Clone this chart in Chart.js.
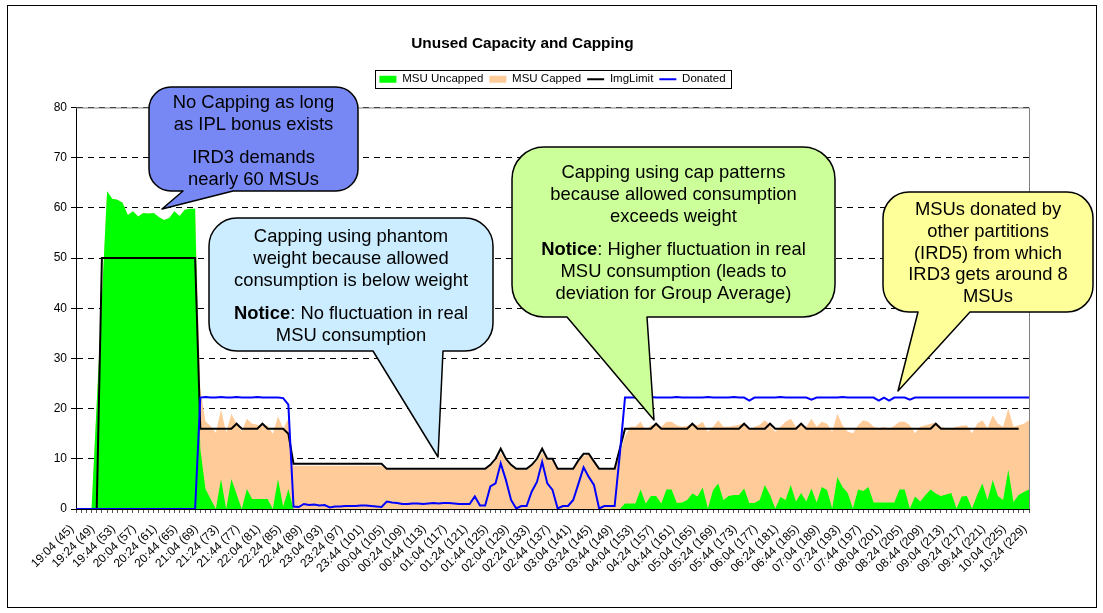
<!DOCTYPE html>
<html>
<head>
<meta charset="utf-8">
<title>Unused Capacity and Capping</title>
<script src="https://cdn.jsdelivr.net/npm/chart.js@4.4.1/dist/chart.umd.min.js"></script>
<style>
  html, body { margin: 0; padding: 0; background: #fff; }
  #wrap { position: relative; width: 1103px; height: 613px; }
</style>
</head>
<body>
<div id="wrap"><canvas id="myChart" width="1103" height="613"></canvas></div>
<script>
// 5 minute intervals, first one is 19:04 (interval 45)
const firstMinute = 19 * 60 + 4
const stepMinutes = 5
const firstInterval = 45

const msuUncapped = [
  0, 0, 0, 0, 21, 42, 63.3, 61.8, 61.6, 61.0,
  58.6, 59.3, 58.3, 59.0, 58.9, 59.0, 58.2, 57.6, 58.0, 59.3,
  58.4, 59.6, 59.8, 59.8, 12, 4, 2, 0, 6, 0,
  6, 3, 0, 4, 2, 2, 2, 2, 0, 6,
  0.5, 4, 0, 0, 0, 0, 0, 0, 0, 0,
  0, 0, 0, 0, 0, 0, 0, 0, 0, 0,
  0, 0, 0, 0, 0, 0, 0, 0, 0, 0,
  0, 0, 0, 0, 0, 0, 0, 0, 0, 0,
  0, 0, 0, 0, 0, 0, 0, 0, 0, 0,
  0, 0, 0, 0, 0, 0, 0, 0, 0, 0,
  0, 0, 0, 0, 0, 0, 1.1, 1.1, 1.1, 3.9,
  1.1, 2.6, 2.6, 1.1, 3.9, 3.9, 1.2, 1.3, 1.8, 3.1,
  2.5, 4.3, 0.1, 3.8, 5.1, 1.8, 2.6, 2.8, 2.8, 4.1,
  1.2, 1.2, 1.8, 4.8, 2.8, 0.1, 2.4, 1.8, 4.8, 1.5,
  3.2, 1.5, 4.1, 1.3, 4.4, 3.8, 0.1, 6.4, 4.4, 3.2,
  0.1, 3.9, 3.6, 4.4, 1.3, 1.3, 1.3, 1.3, 1.3, 3.9,
  3.9, 0.1, 2.5, 1.5, 2.8, 3.9, 3.1, 2.6, 2.9, 3.2,
  0.1, 2.5, 2.6, 0.1, 2.8, 5.1, 1.8, 5.8, 2.6, 1.8,
  7.8, 1.4, 2.8, 3.4, 3.9
]

const msuCapped = [
  0, 0, 0, 0, 0, 0, 0, 0, 0, 0,
  0, 0, 0, 0, 0, 0, 0, 0, 0, 0,
  0, 0, 0, 0, 12, 13.5, 14.5, 15.2, 13.8, 15.2,
  13, 14, 15.5, 14, 15, 14.8, 14.5, 14.7, 15, 12.5,
  15.5, 14, 8.6, 8.6, 8.6, 8.6, 8.6, 8.6, 8.6, 8.6,
  8.6, 8.6, 8.6, 8.6, 8.6, 8.6, 8.6, 8.6, 8.6, 8.6,
  7.8, 7.8, 7.8, 7.8, 7.8, 7.8, 7.8, 7.8, 7.8, 7.8,
  7.8, 7.8, 7.8, 7.8, 7.8, 7.8, 7.8, 7.8, 7.8, 7.8,
  8.5, 9.6, 11.2, 9.6, 8.5, 7.8, 7.8, 7.8, 8.5, 9.6,
  11.2, 9.8, 9.6, 7.8, 7.8, 7.8, 7.8, 9.4, 10.6, 10.8,
  9.2, 7.8, 7.8, 7.8, 7.8, 11, 13.4, 15.3, 15.3, 13.5,
  14.6, 14.1, 14.2, 15.3, 13.5, 13.5, 15.5, 15.1, 14.8, 13.9,
  14.2, 13.1, 15.3, 12.6, 12.6, 14.6, 13.8, 13.8, 14.0, 13.1,
  14.5, 15.2, 15.0, 12.9, 13.9, 15.3, 14.0, 15.6, 13.2, 14.9,
  13.5, 14.9, 13.9, 15.1, 13.0, 13.2, 15.3, 12.6, 12.3, 12.2,
  15.0, 12.8, 14.1, 13.0, 15.1, 14.8, 15.1, 14.6, 15.3, 13.5,
  13.5, 16.6, 12.6, 14.9, 13.9, 13.1, 14.1, 13.8, 13.2, 12.9,
  16.3, 14.1, 14.1, 15.0, 14.2, 12.6, 14.3, 12.9, 14.4, 14.6,
  12.2, 15.0, 13.9, 13.6, 13.8
]

const imgLimit = [
  0, 0, 0, 0, 0, 50, 50, 50, 50, 50,
  50, 50, 50, 50, 50, 50, 50, 50, 50, 50,
  50, 50, 50, 50, 16, 16, 16, 16, 16, 16,
  16, 17, 16, 16, 16, 16, 17, 16, 16, 16,
  16, 15, 9, 9, 9, 9, 9, 9, 9, 9,
  9, 9, 9, 9, 9, 9, 9, 9, 9, 9,
  8, 8, 8, 8, 8, 8, 8, 8, 8, 8,
  8, 8, 8, 8, 8, 8, 8, 8, 8, 8,
  8.8, 10, 12, 10, 8.8, 8, 8, 8, 8.8, 10,
  12, 10, 10, 8, 8, 8, 8, 9.7, 11, 11,
  9.5, 8, 8, 8, 8, 12, 16, 16, 16, 16,
  16, 16, 17, 16, 16, 16, 16, 16, 16, 17,
  16, 16, 16, 16, 16, 16, 16, 16, 16, 17,
  16, 16, 16, 16, 17, 16, 16, 16, 16, 16,
  17, 16, 16, 16, 16, 16, 16, 16, 16, 16,
  16, 16, 16, 16, 16, 16, 16, 16, 16, 16,
  16, 16, 16, 16, 16, 16, 17, 16, 16, 16,
  16, 16, 16, 16, 16, 16, 16, 16, 16, 16,
  16, 16, 16, null, null
]

const donated = [
  0, 0, 0, 0, 0, 0, 0, 0, 0, 0,
  0, 0, 0, 0, 0, 0, 0, 0, 0, 0,
  0, 0, 0, 0, 22.2, 22.3, 22.2, 22.2, 22.3, 22.2,
  22.2, 22.3, 22.2, 22.2, 22.2, 22.3, 22.2, 22.2, 22.2, 22.2,
  22.1, 20.8, 0.5, 0.4, 1.0, 0.8, 0.9, 0.7, 0.8, 0.3,
  0.5, 0.5, 0.6, 0.6, 0.6, 0.7, 0.7, 0.6, 0.5, 0.4,
  1.5, 1.3, 1.2, 1.0, 1.0, 1.1, 1.1, 1.0, 1.1, 1.2,
  1.1, 1.2, 1.2, 1.1, 1.0, 1.0, 1.0, 2.5, 0.7, 0.7,
  4.5, 5.1, 9.1, 5.8, 1.8, 0.1, 0.6, 0.6, 3.5, 5.4,
  9.4, 5.1, 3.8, 0.1, 0.6, 0.6, 1.8, 5.0, 8.3, 6.4,
  4.8, 0.1, 0.6, 0.6, 0.6, 11, 22.2, 22.2, 22.2, 22.2,
  22.2, 22.3, 22.2, 22.2, 22.2, 22.2, 22.3, 22.2, 22.2, 22.2,
  22.2, 22.2, 22.3, 22.2, 22.2, 22.2, 22.2, 22.3, 22.2, 22.2,
  21.6, 22.2, 22.2, 22.2, 22.2, 22.2, 22.3, 22.2, 22.2, 22.2,
  22.2, 22.2, 21.8, 22.2, 22.2, 22.2, 22.2, 22.2, 22.3, 22.2,
  22.2, 22.2, 22.2, 22.2, 22.2, 21.6, 22.2, 21.6, 22.2, 22.2,
  22.2, 21.8, 22.2, 22.2, 22.2, 22.2, 22.2, 22.2, 22.2, 22.2,
  22.2, 22.2, 22.2, 22.2, 22.2, 22.2, 22.2, 22.2, 22.2, 22.2,
  22.2, 22.2, 22.2, 22.2, 22.2
]

const intervalLabels = msuUncapped.map((_, i) => {
  const m = (firstMinute + i * stepMinutes) % 1440
  const hh = String(Math.floor(m / 60)).padStart(2, '0')
  const mm = String(m % 60).padStart(2, '0')
  return hh + ':' + mm + ' (' + (firstInterval + i) + ')'
})

// speech bubbles: box, corner radius, tail [baseLeft, baseRight, tipX, tipY], text
const callouts = [
  { x: 149, y: 87, w: 209, h: 104, r: 22, fill: '#7788F5', tail: [183, 233, 162, 209],
    cx: 253.5, top: 108.3,
    lines: ['No Capping as long', 'as IPL bonus exists', null, 'IRD3 demands', 'nearly 60 MSUs'] },
  { x: 209, y: 218, w: 284, h: 133, r: 28, fill: '#CCECFF', tail: [373, 443, 438, 457],
    cx: 351, top: 242.3,
    lines: ['Capping using phantom', 'weight because allowed', 'consumption is below weight', null,
      [['Notice', true], [': No fluctuation in real', false]], 'MSU consumption'] },
  { x: 512, y: 147, w: 323, h: 170, r: 32, fill: '#CCFF99', tail: [567, 647, 654, 420],
    cx: 673.5, top: 178.3,
    lines: ['Capping using cap patterns', 'because allowed consumption', 'exceeds weight', null,
      [['Notice', true], [': Higher fluctuation in real', false]], 'MSU consumption (leads to',
      'deviation for Group Average)'] },
  { x: 883, y: 192, w: 210, h: 120, r: 26, fill: '#FFFF99', tail: [918, 970, 898, 391],
    cx: 988, top: 215,
    lines: ['MSUs donated by', 'other partitions', '(IRD5) from which', 'IRD3 gets around 8', 'MSUs'] }
]

const fontFamily = '"Liberation Sans", Arial, sans-serif'
Chart.defaults.font.family = fontFamily
Chart.defaults.color = '#000'

function bubblePath(ctx, c) {
  const right = c.x + c.w, bottom = c.y + c.h, r = c.r
  const [baseL, baseR, tipX, tipY] = c.tail
  ctx.beginPath()
  ctx.moveTo(c.x + r, c.y)
  ctx.lineTo(right - r, c.y)
  ctx.arcTo(right, c.y, right, c.y + r, r)
  ctx.lineTo(right, bottom - r)
  ctx.arcTo(right, bottom, right - r, bottom, r)
  ctx.lineTo(baseR, bottom)
  ctx.lineTo(tipX, tipY)
  ctx.lineTo(baseL, bottom)
  ctx.lineTo(c.x + r, bottom)
  ctx.arcTo(c.x, bottom, c.x, bottom - r, r)
  ctx.lineTo(c.x, c.y + r)
  ctx.arcTo(c.x, c.y, c.x + r, c.y, r)
  ctx.closePath()
}

function bubbleText(ctx, c) {
  const size = 18.4, lineStep = 21.8, gap = 11.5
  let y = c.top
  ctx.fillStyle = '#000'
  ctx.textBaseline = 'alphabetic'
  ctx.textAlign = 'left'
  c.lines.forEach(line => {
    if (line === null) { y += gap; return }
    const parts = typeof line === 'string' ? [[line, false]] : line
    let total = 0
    parts.forEach(p => {
      ctx.font = (p[1] ? 'bold ' : '') + size + 'px ' + fontFamily
      p.w = ctx.measureText(p[0]).width
      total += p.w
    })
    let x = c.cx - total / 2
    parts.forEach(p => {
      ctx.font = (p[1] ? 'bold ' : '') + size + 'px ' + fontFamily
      ctx.fillText(p[0], x, y)
      x += p.w
    })
    y += lineStep
  })
}

// extra room under the legend, plot frame, legend frame, outer frame and bubbles
const decorations = {
  id: 'decorations',
  beforeLayout(chart) {
    const legend = chart.legend
    if (legend && !legend._gapAdded) {
      const fit = legend.fit
      legend.fit = function () { fit.call(this); this.height += 12.5 }
      legend._gapAdded = true
    }
  },
  beforeDatasetsDraw(chart) {
    const { ctx, chartArea: a } = chart
    ctx.save()
    ctx.strokeStyle = '#808080'
    ctx.lineWidth = 1
    ctx.beginPath()
    ctx.moveTo(a.left, a.top + 0.5)
    ctx.lineTo(a.right + 0.5, a.top + 0.5)
    ctx.lineTo(a.right + 0.5, a.bottom)
    ctx.stroke()
    ctx.restore()
  },
  afterDraw(chart) {
    const ctx = chart.ctx
    ctx.save()
    const boxes = chart.legend.legendHitBoxes
    if (boxes && boxes.length) {
      const first = boxes[0], last = boxes[boxes.length - 1]
      const l = Math.round(first.left - 4) + 0.5
      const r = Math.round(last.left + last.width + 5) + 0.5
      const t = Math.round(first.top - 3) + 0.5
      const b = Math.round(first.top + first.height + 3) + 0.5
      ctx.strokeStyle = '#000'
      ctx.lineWidth = 1
      ctx.strokeRect(l, t, r - l, b - t)
    }
    ctx.strokeStyle = '#000'
    ctx.lineWidth = 1
    ctx.strokeRect(7.5, 5.5, 1089, 602)

    callouts.forEach(c => {
      bubblePath(ctx, c)
      ctx.fillStyle = c.fill
      ctx.fill()
      ctx.lineWidth = 1.5
      ctx.strokeStyle = '#000'
      ctx.lineJoin = 'round'
      ctx.stroke()
      bubbleText(ctx, c)
    })
    ctx.restore()
  }
}

const data = {
  labels: intervalLabels,
  datasets: [
    {
      label: 'MSU Uncapped',
      data: msuUncapped,
      backgroundColor: '#00FF00',
      borderColor: '#00FF00',
      borderWidth: 0,
      fill: 'origin',
      stack: 'msu',
      order: 2
    },
    {
      label: 'MSU Capped',
      data: msuCapped,
      backgroundColor: '#FFCC99',
      borderColor: '#FFCC99',
      borderWidth: 0,
      fill: 'origin',
      stack: 'msu',
      order: 3
    },
    {
      label: 'ImgLimit',
      data: imgLimit,
      borderColor: '#000000',
      backgroundColor: '#000000',
      borderWidth: 2,
      fill: false,
      stack: 'limit',
      order: 1
    },
    {
      label: 'Donated',
      data: donated,
      borderColor: '#0000FF',
      backgroundColor: '#0000FF',
      borderWidth: 2,
      fill: false,
      stack: 'donated',
      order: 0
    }
  ]
}

const config = {
  type: 'line',
  data: data,
  plugins: [decorations],
  options: {
    responsive: false,
    animation: false,
    layout: { padding: { left: 15.8, right: 74, top: 0, bottom: 0 } },
    elements: {
      point: { radius: 0, hoverRadius: 0 },
      line: { tension: 0, borderJoinStyle: 'miter' }
    },
    plugins: {
      tooltip: { enabled: false },
      title: {
        display: true,
        text: 'Unused Capacity and Capping',
        color: '#000',
        font: { size: 15.4, weight: 'bold' },
        padding: { top: 35, bottom: 14 }
      },
      legend: {
        fullSize: false,
        labels: {
          usePointStyle: true,
          pointStyleWidth: 17,
          boxHeight: 7,
          padding: 6,
          color: '#000',
          font: { size: 11.5 },
          generateLabels(chart) {
            return chart.data.datasets.map((ds, i) => ({
              text: ds.label,
              datasetIndex: i,
              fillStyle: ds.fill ? ds.backgroundColor : ds.borderColor,
              strokeStyle: ds.borderColor,
              lineWidth: ds.fill ? 0 : 2,
              pointStyle: ds.fill ? 'rect' : 'line',
              hidden: false
            }))
          }
        }
      }
    },
    scales: {
      x: {
        ticks: {
          autoSkip: false,
          minRotation: 45,
          maxRotation: 45,
          padding: 9,
          labelOffset: -4,
          color: '#000',
          font: { size: 12 },
          callback(value, index) {
            return index % 4 === 0 ? this.getLabelForValue(value) : ''
          }
        },
        grid: { drawOnChartArea: false, tickLength: 4, color: '#555' },
        border: { color: '#000', width: 1 },
        afterFit(scale) { scale.height = 104 }
      },
      y: {
        stacked: true,
        min: 0,
        max: 80,
        ticks: { stepSize: 10, padding: 4, color: '#000', font: { size: 12 } },
        grid: { color: '#000', tickLength: 5, tickColor: '#000' },
        border: { color: '#000', width: 1, dash: [6, 5] },
        afterFit(scale) { scale.width = 60.2 }
      }
    }
  }
}

const myChart = new Chart(document.getElementById('myChart'), config)
</script>
</body>
</html>
